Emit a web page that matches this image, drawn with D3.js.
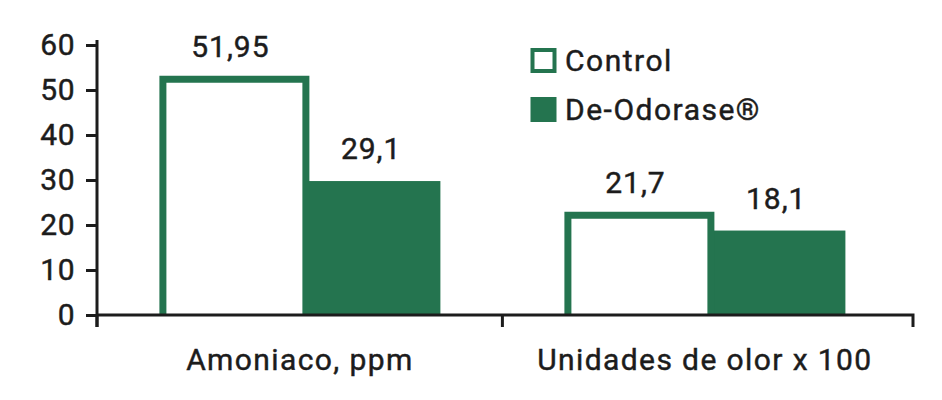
<!DOCTYPE html>
<html><head><meta charset="utf-8">
<script src="https://cdn.jsdelivr.net/npm/d3@7"></script>
<style>
html,body{margin:0;padding:0;background:#fff;}
text{font-family:Roboto,"Noto Sans",sans-serif;fill:#1c1c1c;font-weight:400;stroke:#1c1c1c;stroke-width:0.45px;}
</style></head>
<body><svg id="chart" width="942" height="400"></svg>
<script>
const categories = ["Amoniaco, ppm", "Unidades de olor x 100"];
const seriesNames = ["Control", "De-Odorase®"];
const controlValues = [51.95, 21.7];
const deodorantValues = [29.1, 18.1];
const valueLabels = [["51,95", "29,1"], ["21,7", "18,1"]];
const yTicks = [0, 10, 20, 30, 40, 50, 60];

const green = "#24744f";
const ink = "#1c1c1c";
const svg = d3.select("#chart");

const x0 = d3.scaleBand().domain(categories).range([97, 913])
  .paddingInner(0.3062).paddingOuter(0.1605).align(0.48);
const x1 = d3.scaleBand().domain(seriesNames).range([0, x0.bandwidth()]);
const y = d3.scaleLinear().domain([0, 60]).range([315, 45]);

const data = categories.map((c, i) => ({
  cat: c,
  vals: [controlValues[i], deodorantValues[i]],
  labels: valueLabels[i]
}));

data.forEach(d => {
  const gx = x0(d.cat);
  const bw = x1.bandwidth();
  const xd = gx + x1(seriesNames[1]);
  svg.append("rect")
    .attr("x", xd).attr("y", y(d.vals[1]) - 3)
    .attr("width", bw).attr("height", y(0) - y(d.vals[1]) + 3)
    .attr("fill", green);
  svg.append("text")
    .attr("x", xd + bw / 2 + 1).attr("y", y(d.vals[1]) - 3 - 22)
    .attr("text-anchor", "middle").attr("font-size", 30)
    .style("letter-spacing", "1px")
    .text(d.labels[1]);
  const xc = gx + x1(seriesNames[0]);
  const l = xc + 3.5, r = xc + bw + 6;
  const top = y(d.vals[0]) - 2;
  svg.append("path")
    .attr("d", `M${l},${y(0)}V${top}H${r}V${y(0)}Z`)
    .attr("fill", "#fff").attr("stroke", "none");
  svg.append("path")
    .attr("d", `M${l},${y(0)}V${top}H${r}V${y(0)}`)
    .attr("fill", "none").attr("stroke", green).attr("stroke-width", 7)
    .attr("stroke-linejoin", "miter");
  svg.append("text")
    .attr("x", (l + r) / 2 - 4).attr("y", top - 3.5 - 19)
    .attr("text-anchor", "middle").attr("font-size", 30)
    .style("letter-spacing", "1px")
    .text(d.labels[0]);
});

// Y axis
const yAxis = d3.axisLeft(y).tickValues(yTicks).tickSize(11).tickPadding(11).tickFormat(d3.format("d"));
const gy = svg.append("g").attr("transform", "translate(97,0)").call(yAxis);
gy.select(".domain").attr("d", `M0,40V327`).attr("stroke", ink).attr("stroke-width", 3);
gy.selectAll(".tick line").attr("stroke", ink).attr("stroke-width", 3);
gy.selectAll(".tick text").attr("font-size", 30).attr("fill", ink)
  .style("font-family", "Roboto, 'Noto Sans', sans-serif").style("letter-spacing", "0.5px");

// X axis
const xAxis = d3.axisBottom(x0).tickSize(0).tickPadding(0);
const gx = svg.append("g").attr("transform", `translate(0,${y(0)})`).call(xAxis);
gx.select(".domain").attr("d", `M97,0H913V12`).attr("stroke", ink).attr("stroke-width", 3).attr("fill", "none");
gx.selectAll(".tick text").attr("font-size", 30).attr("fill", ink).attr("dy", 0).attr("y", 55)
  .style("font-family", "Roboto, 'Noto Sans', sans-serif")
  .style("letter-spacing", "1.4px");
const boundaries = [x0.range()[0], (x0(categories[0]) + x0.bandwidth() + x0(categories[1])) / 2];
gx.selectAll("line.sep").data(boundaries).enter().append("line").attr("class", "sep")
  .attr("x1", d => d).attr("x2", d => d).attr("y1", 0).attr("y2", 12)
  .attr("stroke", ink).attr("stroke-width", 3);

// Legend
const legend = svg.append("g");
seriesNames.forEach((s, i) => {
  const ly = 48 + i * 49;
  if (i === 0) {
    legend.append("rect").attr("x", 532.5).attr("y", ly + 2).attr("width", 22).attr("height", 21)
      .attr("fill", "#fff").attr("stroke", green).attr("stroke-width", 4);
  } else {
    legend.append("rect").attr("x", 530.5).attr("y", ly).attr("width", 26).attr("height", 25).attr("fill", green);
  }
  legend.append("text").attr("x", 565).attr("y", ly + 23).attr("font-size", 30)
    .style("letter-spacing", "1.5px").text(s);
});
</script></body></html>
